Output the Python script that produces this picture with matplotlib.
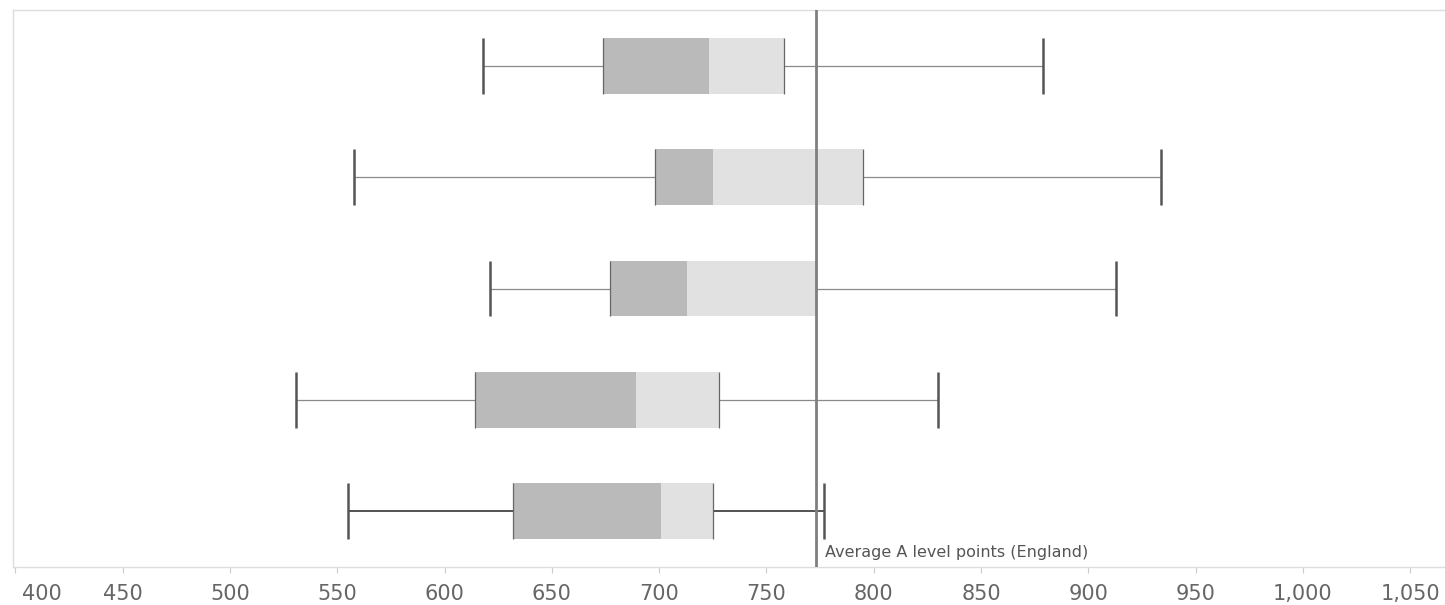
import matplotlib
matplotlib.use("Agg")
import matplotlib.pyplot as plt
import matplotlib.transforms as mtransforms
from matplotlib.ticker import FuncFormatter
import numpy as np

# ── Data (A level points, five groups, top to bottom) ─────────────────────────
lows    = [618, 558, 621, 531, 555]
q1s     = [674, 698, 677, 614, 632]
medians = [723, 725, 713, 689, 701]
q3s     = [758, 795, 773, 728, 725]
highs   = [879, 934, 913, 830, 777]

england_avg = 773
avg_label = "Average A level points (England)"
ticks = list(range(400, 1051, 50))

LOWER_COL = "#bbbabb"
UPPER_COL = "#e1e1e1"

fig = plt.figure(figsize=(14.45, 6.05), dpi=100)
ax = fig.add_axes([13 / 1445, 1 - 567 / 605, 1 - 13 / 1445, (567 - 10) / 605])

y = np.arange(len(medians))
h = 0.5

# whiskers
for i in y:
    wcol = "#444444" if i == len(y) - 1 else "#8a8a8a"
    wlw = 1.3 if i == len(y) - 1 else 0.9
    ax.hlines(i, lows[i], q1s[i], color=wcol, lw=wlw, zorder=1)
    ax.hlines(i, q3s[i], highs[i], color=wcol, lw=wlw, zorder=1)

ax.vlines(lows, y - h / 2, y + h / 2, color="#555555", lw=1.8, zorder=3)
ax.vlines(highs, y - h / 2, y + h / 2, color="#555555", lw=1.8, zorder=3)

# box halves
q1 = np.array(q1s)
md = np.array(medians)
q3 = np.array(q3s)
ax.barh(y, md - q1, left=q1, height=h, color=LOWER_COL, zorder=2)
ax.barh(y, q3 - md, left=md, height=h, color=UPPER_COL, zorder=2)
ax.vlines(q1s, y - h / 2, y + h / 2, color="#666666", lw=0.9, zorder=3)
ax.vlines(q3s, y - h / 2, y + h / 2, color="#666666", lw=0.9, zorder=3)

# reference line
ax.axvline(england_avg, color="#7f7f7f", lw=2.0, zorder=4)
ax.annotate(avg_label, xy=(england_avg, 1), xycoords=("data", "axes fraction"),
            xytext=(9, -542), textcoords="offset pixels",
            fontsize=11.5, color="#555555", va="center", ha="left",
            family="DejaVu Sans")

ax.set_xlim(398.9, 1066.2)
ax.set_ylim(len(y) - 0.5, -0.5)
ax.set_yticks([])
ax.set_xticks(ticks)
ax.xaxis.set_major_formatter(FuncFormatter(lambda v, p: f"{v:,.0f}"))
ax.tick_params(axis="x", length=4, width=0.8, color="#cccccc", pad=8,
               labelsize=15, labelcolor="#666666")
for lab in ax.get_xticklabels():
    lab.set_family("DejaVu Sans")

# first label is nudged right so it is not clipped at the edge
first = ax.get_xticklabels()[0]
first.set_ha("left")
first.set_transform(first.get_transform()
                    + mtransforms.ScaledTranslation(0.07, 0, fig.dpi_scale_trans))

for side in ["top", "left", "bottom"]:
    ax.spines[side].set_color("#dddddd")
    ax.spines[side].set_linewidth(1.0)
ax.spines["right"].set_visible(False)

fig.savefig("out.png", dpi=100)
